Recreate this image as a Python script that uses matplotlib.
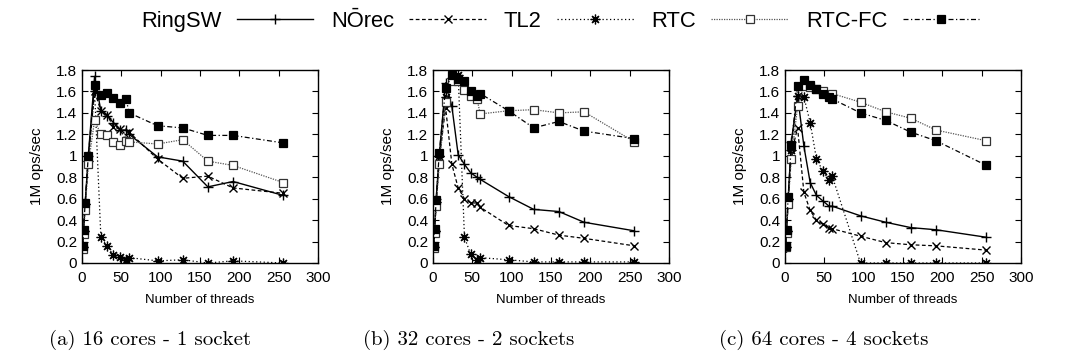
import matplotlib
matplotlib.use('Agg')
import matplotlib.pyplot as plt
from matplotlib.lines import Line2D
from matplotlib.ticker import FormatStrFormatter, MultipleLocator

# thread counts on the x axis
threads = [1, 2, 4, 8, 16, 24, 32, 40, 48, 56, 60, 96, 128, 160, 192, 256]

# (a) 16 cores - 1 socket
ringsw_a = [0.15, 0.30, 0.55, 1.00, 1.74, 1.42, 1.37, 1.31, 1.24, 1.24, 1.20, 0.99, 0.95, 0.71, 0.76, 0.63]
norec_a  = [0.15, 0.30, 0.55, 0.97, 1.60, 1.42, 1.38, 1.27, 1.25, 1.14, 1.22, 0.97, 0.79, 0.81, 0.70, 0.65]
tl2_a    = [0.15, 0.30, 0.55, 0.95, 1.60, 0.24, 0.16, 0.07, 0.06, 0.03, 0.05, 0.02, 0.03, 0.00, 0.02, 0.00]
rtc_a    = [0.13, 0.27, 0.49, 0.92, 1.33, 1.20, 1.19, 1.13, 1.10, 1.14, 1.13, 1.11, 1.15, 0.95, 0.91, 0.75]
rtcfc_a  = [0.16, 0.31, 0.56, 1.00, 1.66, 1.57, 1.59, 1.54, 1.49, 1.53, 1.40, 1.28, 1.26, 1.19, 1.19, 1.12]

# (b) 32 cores - 2 sockets
ringsw_b = [0.15, 0.30, 0.60, 1.00, 1.68, 1.46, 1.01, 0.92, 0.84, 0.80, 0.78, 0.62, 0.50, 0.48, 0.38, 0.30]
norec_b  = [0.15, 0.30, 0.55, 0.97, 1.45, 0.92, 0.70, 0.60, 0.56, 0.56, 0.52, 0.35, 0.32, 0.26, 0.23, 0.16]
tl2_b    = [0.15, 0.30, 0.57, 1.00, 1.55, 1.73, 1.75, 0.24, 0.08, 0.03, 0.05, 0.03, 0.01, 0.01, 0.01, 0.01]
rtc_b    = [0.14, 0.28, 0.53, 0.92, 1.50, 1.70, 1.70, 1.61, 1.56, 1.53, 1.39, 1.42, 1.43, 1.40, 1.41, 1.13]
rtcfc_b  = [0.16, 0.32, 0.59, 1.03, 1.63, 1.75, 1.72, 1.70, 1.60, 1.56, 1.58, 1.42, 1.26, 1.32, 1.23, 1.16]

# (c) 64 cores - 4 sockets
ringsw_c = [0.15, 0.30, 0.60, 1.13, 1.56, 1.09, 0.75, 0.63, 0.58, 0.53, 0.53, 0.44, 0.38, 0.33, 0.31, 0.24]
norec_c  = [0.15, 0.30, 0.57, 1.02, 1.26, 0.66, 0.49, 0.40, 0.36, 0.33, 0.32, 0.25, 0.19, 0.17, 0.16, 0.12]
tl2_c    = [0.15, 0.30, 0.60, 1.05, 1.56, 1.55, 1.31, 0.97, 0.86, 0.77, 0.81, 0.00, 0.00, 0.00, 0.00, 0.00]
rtc_c    = [0.15, 0.28, 0.55, 0.97, 1.46, 1.65, 1.64, 1.62, 1.60, 1.57, 1.58, 1.50, 1.41, 1.35, 1.24, 1.14]
rtcfc_c  = [0.16, 0.31, 0.62, 1.10, 1.65, 1.71, 1.66, 1.62, 1.58, 1.55, 1.53, 1.40, 1.33, 1.22, 1.14, 0.91]

series_names = ['RingSW', 'N\u014crec', 'TL2', 'RTC', 'RTC-FC']
captions = ['(a) 16 cores - 1 socket', '(b) 32 cores - 2 sockets', '(c) 64 cores - 4 sockets']
panels = [
    [ringsw_a, norec_a, tl2_a, rtc_a, rtcfc_a],
    [ringsw_b, norec_b, tl2_b, rtc_b, rtcfc_b],
    [ringsw_c, norec_c, tl2_c, rtc_c, rtcfc_c],
]

# gnuplot-like styles: line style, marker, colours
styles = [
    dict(color='black', linestyle='-', lw=1.0, marker='+', ms=7, mew=1.0),
    dict(color='black', linestyle=(0, (3, 2)), lw=0.9, marker='x', ms=6, mew=1.0),
    dict(color='black', linestyle=(0, (1, 2)), lw=0.9, marker=(8, 2, 0), ms=7, mew=0.9),
    dict(color='#555555', linestyle=(0, (1, 1)), lw=0.9, marker='s', ms=6, mew=0.9,
         mfc='white', mec='#333333'),
    dict(color='black', linestyle=(0, (4, 2, 1, 2)), lw=0.9, marker='s', ms=6, mew=0.9,
         mfc='black', mec='black'),
]

plt.rcParams['font.family'] = ['Liberation Sans', 'DejaVu Sans']

fig = plt.figure(figsize=(10.73, 3.6), dpi=100)
lefts = [82, 433, 785]
caption_x = [150, 469, 824]
for i, left in enumerate(lefts):
    ax = fig.add_axes([left / 1073, 97 / 360, 236 / 1073, 193 / 360])
    for vals, st in zip(panels[i], styles):
        ax.plot(threads, vals, **st)
    ax.set_xlim(0, 300)
    ax.set_ylim(0, 1.8)
    ax.xaxis.set_major_locator(MultipleLocator(50))
    ax.yaxis.set_major_locator(MultipleLocator(0.2))
    ax.yaxis.set_major_formatter(FormatStrFormatter('%g'))
    ax.tick_params(direction='in', top=True, right=True, length=4, labelsize=11)
    ax.tick_params(axis='x', pad=6)
    ax.set_xlabel('Number of threads', fontsize=9.5, labelpad=6)
    ax.set_ylabel('1M ops/sec', fontsize=11, labelpad=9)
    for sp in ax.spines.values():
        sp.set_linewidth(1.0)
    # sub-caption below each panel
    fig.text(caption_x[i] / 1073, 0.055, captions[i], ha='center', va='center',
             fontsize=15, family='cmr10')

handles = [Line2D([], [], **st) for st in styles]
fig.legend(handles, series_names, loc='upper center', bbox_to_anchor=(0.522, 1.025),
           ncol=5, frameon=False, markerfirst=False, handlelength=3.5, fontsize=15.8,
           columnspacing=0.8, handletextpad=0.7)

fig.savefig('out.png', dpi=100)
